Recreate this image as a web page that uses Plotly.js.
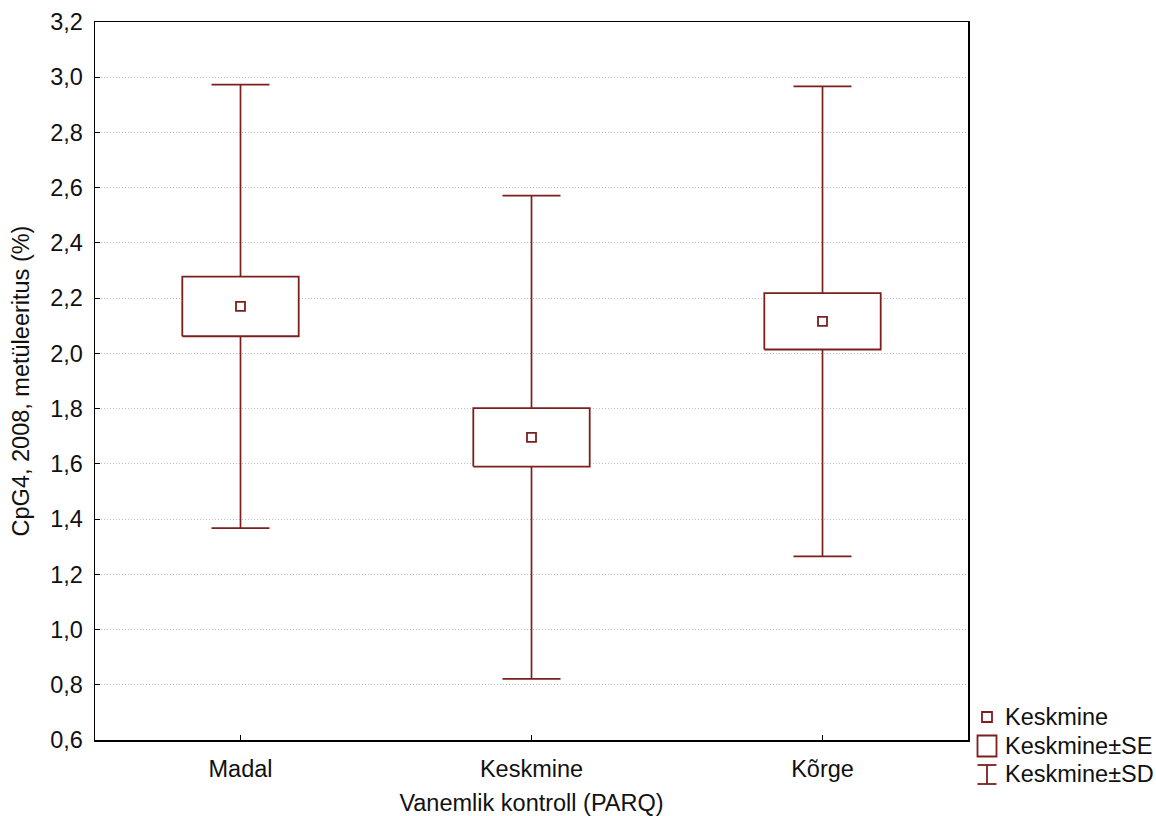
<!DOCTYPE html>
<html>
<head>
<meta charset="utf-8">
<script src="https://cdn.plot.ly/plotly-3.0.1.min.js"></script>
<style>html,body{margin:0;padding:0;background:#fff;}#chart{width:1156px;height:816px;}</style>
</head>
<body>
<div id="chart"></div>
<script>
// Data
const categories = ['Madal', 'Keskmine', 'Kõrge'];
const means = [2.170, 1.696, 2.116];
const se = [0.108, 0.106, 0.102];
const sd = [0.803, 0.875, 0.851];
const legendLabels = ['Keskmine', 'Keskmine±SE', 'Keskmine±SD'];
const yTicks = [0.6, 0.8, 1.0, 1.2, 1.4, 1.6, 1.8, 2.0, 2.2, 2.4, 2.6, 2.8, 3.0, 3.2];

const col = '#7d1f1f';
const font = 'Liberation Sans, Arial, sans-serif';
const fs = 23.5;
const xs = categories.map((c, i) => i);
const halfBox = 0.2;

const traces = [];
// SD whiskers
traces.push({
  type: 'scatter', x: xs, y: means, mode: 'markers',
  marker: {color: 'rgba(0,0,0,0)', size: 1},
  error_y: {type: 'data', array: sd, visible: true, color: col, thickness: 1.7, width: 29},
  hoverinfo: 'skip', showlegend: false
});
// SE boxes
xs.forEach((x, i) => {
  const lo = means[i] - se[i], hi = means[i] + se[i];
  traces.push({
    type: 'scatter', mode: 'lines',
    x: [x - halfBox, x + halfBox, x + halfBox, x - halfBox, x - halfBox],
    y: [lo, lo, hi, hi, lo],
    fill: 'toself', fillcolor: '#ffffff',
    line: {color: col, width: 1.8},
    hoverinfo: 'skip', showlegend: false
  });
});
// Means
traces.push({
  type: 'scatter', x: xs, y: means, mode: 'markers',
  marker: {symbol: 'square-open', size: 9, color: col, line: {color: col, width: 1.8}},
  showlegend: false
});

// Legend drawn manually (pixel -> paper conversion, paper spans the plot area)
const W = 1156, H = 816;
const M = {l: 95, r: 188, t: 22, b: 76};
const pw = W - M.l - M.r, ph = H - M.t - M.b;
const px = v => (v - M.l) / pw, py = v => (H - M.b - v) / ph;
const lx = 987;
const shp = (o) => Object.assign({xref: 'paper', yref: 'paper', line: {color: col, width: 1.8}}, o);
const shapes = [
  shp({type: 'rect', x0: px(lx - 5), x1: px(lx + 5), y0: py(722), y1: py(712)}),
  shp({type: 'rect', x0: px(lx - 9.5), x1: px(lx + 9.5), y0: py(756.5), y1: py(735.5)}),
  shp({type: 'line', x0: px(lx), x1: px(lx), y0: py(784), y1: py(765)}),
  shp({type: 'line', x0: px(lx - 9.5), x1: px(lx + 9.5), y0: py(765), y1: py(765)}),
  shp({type: 'line', x0: px(lx - 9.5), x1: px(lx + 9.5), y0: py(784), y1: py(784)})
];
const legendY = [717, 746, 774];
const annotations = legendLabels.map((t, i) => ({
  text: t, xref: 'paper', yref: 'paper', x: px(1003), y: py(legendY[i]),
  xanchor: 'left', yanchor: 'middle', showarrow: false,
  font: {family: font, size: fs, color: '#111'}
}));

const layout = {
  width: W, height: H,
  margin: M,
  paper_bgcolor: '#fff', plot_bgcolor: '#fff',
  separators: ', ',
  font: {family: font, size: fs, color: '#111'},
  showlegend: false,
  xaxis: {
    range: [-0.5, 2.5], tickmode: 'array', tickvals: xs, ticktext: categories,
    ticks: 'inside', ticklen: 5, tickcolor: '#000', tickwidth: 1,
    showline: true, mirror: true, linecolor: '#000', linewidth: 1.5,
    showgrid: false, zeroline: false, ticklabelstandoff: 7,
    title: {text: 'Vanemlik kontroll (PARQ)', font: {family: font, size: fs, color: '#111'}, standoff: 14}
  },
  yaxis: {
    range: [0.6, 3.2], tickmode: 'array', tickvals: yTicks, tickformat: '.1f',
    ticks: 'inside', ticklen: 5, tickcolor: '#000', tickwidth: 1,
    showline: true, mirror: true, linecolor: '#000', linewidth: 1.5,
    showgrid: true, gridcolor: '#bdbdbd', griddash: '1px,2px', gridwidth: 1,
    zeroline: false, ticklabelstandoff: 6,
    title: {text: 'CpG4, 2008, metüleeritus (%)', font: {family: font, size: fs, color: '#111'}, standoff: 14}
  },
  shapes: shapes,
  annotations: annotations
};

Plotly.newPlot('chart', traces, layout, {displayModeBar: false, staticPlot: true});
</script>
</body>
</html>
